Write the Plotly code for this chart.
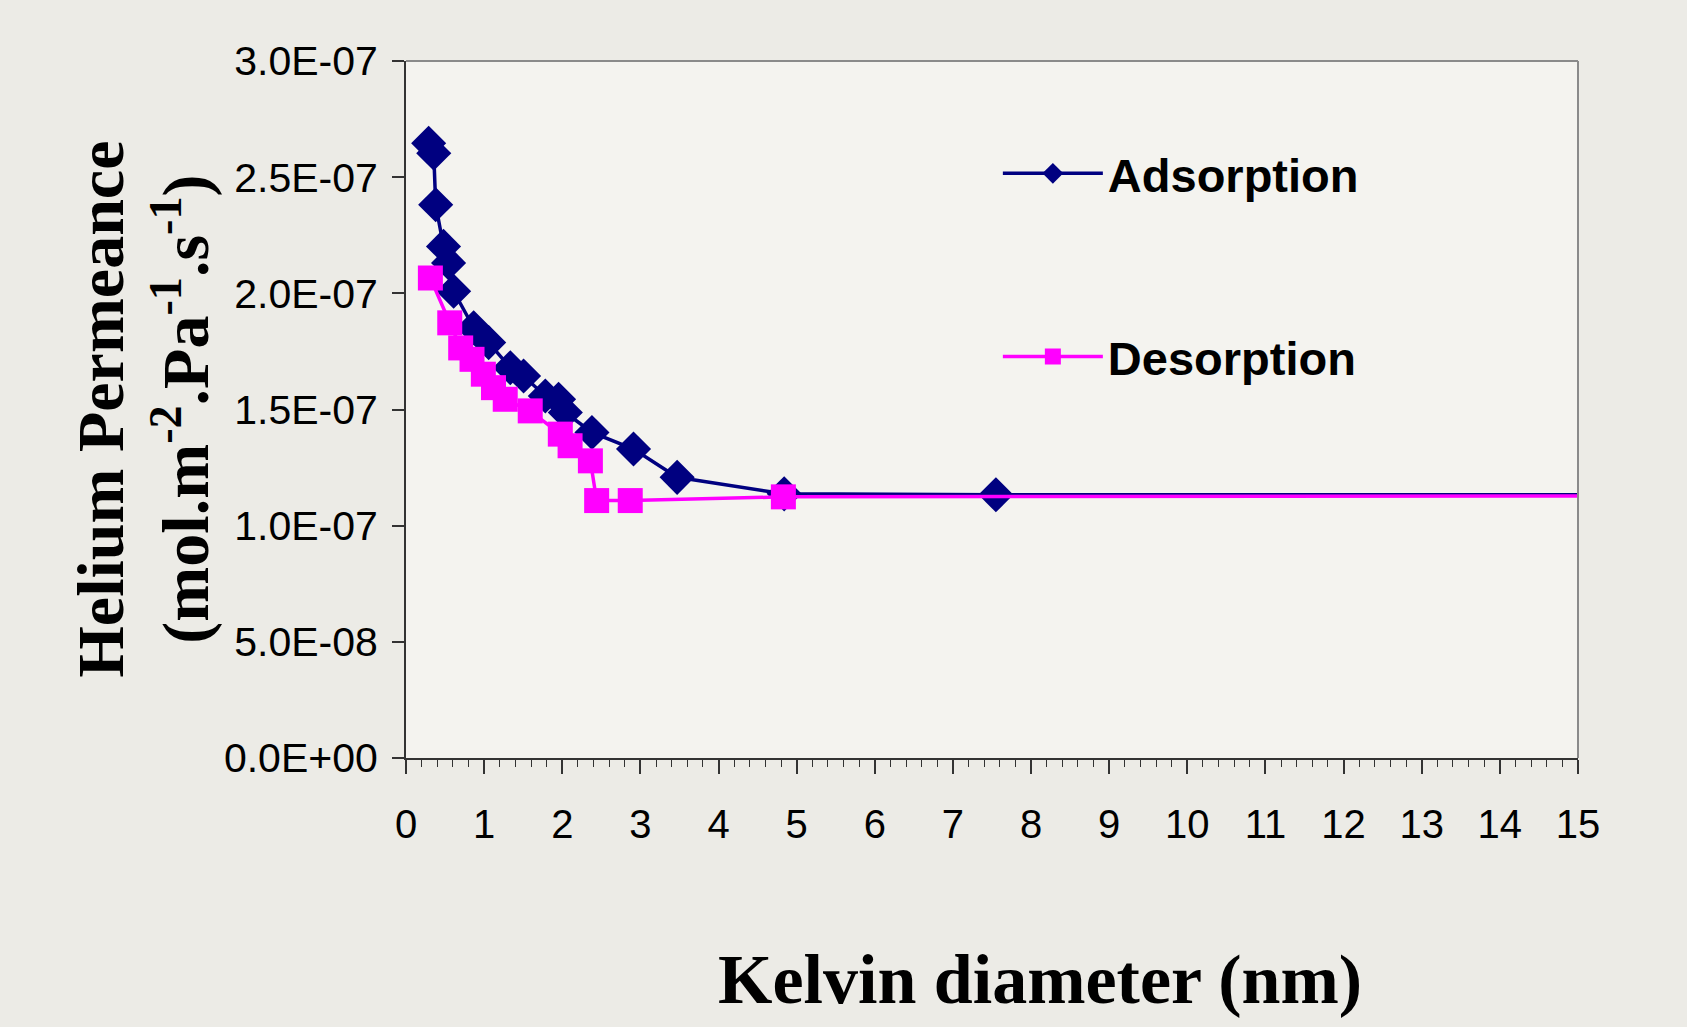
import plotly.graph_objects as go

# ---- data (Kelvin diameter in nm, permeance in mol.m-2.Pa-1.s-1) ----
ads_x = [0.29, 0.355, 0.38, 0.48, 0.545, 0.61, 0.866, 1.058, 1.335, 1.505, 1.783, 1.953, 2.039, 2.38, 2.912, 3.47, 4.84, 7.55, 15.2]
ads_y = [2.646e-7, 2.603e-7, 2.381e-7, 2.202e-7, 2.131e-7, 2.009e-7, 1.852e-7, 1.788e-7, 1.680e-7, 1.644e-7,
         1.558e-7, 1.544e-7, 1.487e-7, 1.401e-7, 1.330e-7, 1.208e-7, 1.137e-7, 1.133e-7, 1.133e-7]

des_x = [0.312, 0.56, 0.70, 0.845, 0.99, 1.12, 1.27, 1.59, 1.975, 2.10, 2.36, 2.44, 2.87, 4.83, 15.2]
des_y = [2.066e-7, 1.873e-7, 1.765e-7, 1.716e-7, 1.652e-7, 1.594e-7, 1.544e-7, 1.494e-7, 1.394e-7, 1.344e-7,
         1.279e-7, 1.108e-7, 1.108e-7, 1.124e-7, 1.128e-7]

y_tickvals = [0, 5e-8, 1e-7, 1.5e-7, 2e-7, 2.5e-7, 3e-7]
y_ticktext = ["0.0E+00", "5.0E-08", "1.0E-07", "1.5E-07", "2.0E-07", "2.5E-07", "3.0E-07"]
x_tickvals = list(range(0, 16))
x_ticktext = [str(v) for v in x_tickvals]

SANS = "Liberation Sans, Arial, sans-serif"
SERIF = "Liberation Serif, Times New Roman, serif"

fig = go.Figure()
fig.add_trace(go.Scatter(
    x=ads_x, y=ads_y, mode="lines+markers", name="Adsorption", legendgroup="a",
    line=dict(color="#000080", width=3.5),
    marker=dict(symbol="diamond", size=27, color="#000080"),
))
fig.add_trace(go.Scatter(
    x=des_x, y=des_y, mode="lines+markers", name="Desorption", legendgroup="b",
    line=dict(color="#FF00FF", width=3.5),
    marker=dict(symbol="square", size=25, color="#FF00FF"),
))

W, H = 1687, 1027
L, R, T, B = 406, 109, 61, 269

fig.update_layout(
    width=W, height=H,
    margin=dict(l=L, r=R, t=T, b=B),
    paper_bgcolor="#ecebe6",
    plot_bgcolor="#f4f3ef",
    showlegend=True,
    legend=dict(
        x=0.505, y=0.892, xanchor="left", yanchor="top",
        bgcolor="rgba(0,0,0,0)", borderwidth=0,
        font=dict(family=SANS, size=47, color="black", weight="bold"),
        itemwidth=100, tracegroupgap=119, traceorder="grouped",
    ),
    xaxis=dict(
        range=[0, 15], tickmode="array", tickvals=x_tickvals, ticktext=x_ticktext,
        showgrid=False, zeroline=False, showline=True, linecolor="#333", linewidth=2,
        mirror=False, ticks="outside", ticklen=14, tickwidth=1.5, tickcolor="#333",
        tickfont=dict(family=SANS, size=40, color="black"), ticklabelstandoff=16,
        minor=dict(tickvals=[i * 0.2 for i in range(0, 76)], ticks="outside", ticklen=7, tickwidth=1, tickcolor="#333"),
    ),
    yaxis=dict(
        range=[0, 3e-7], tickmode="array", tickvals=y_tickvals, ticktext=y_ticktext,
        showgrid=False, zeroline=False, showline=True, linecolor="#333", linewidth=2,
        ticks="outside", ticklen=12, tickwidth=1.5, tickcolor="#333",
        tickfont=dict(family=SANS, size=41, color="black"), ticklabelstandoff=6,
    ),
)

# plot-area border on top and right
fig.add_shape(type="line", xref="paper", yref="paper", x0=0, x1=1, y0=1, y1=1, line=dict(color="#8a8a8a", width=2))
fig.add_shape(type="line", xref="paper", yref="paper", x0=1, x1=1, y0=0, y1=1, line=dict(color="#8a8a8a", width=2))

# axis titles
fig.add_annotation(
    text="<b>Kelvin diameter (nm)</b>", xref="paper", yref="paper",
    x=(1040 - L) / (W - L - R), y=-(979 - (H - B)) / (H - T - B),
    xanchor="center", yanchor="middle", showarrow=False,
    font=dict(family=SERIF, size=70, color="black"),
)
fig.add_annotation(
    text="<b>Helium Permeance<br>(mol.m<sup>-2</sup>.Pa<sup>-1</sup>.s<sup>-1</sup>)</b>",
    xref="paper", yref="paper",
    x=-(L - 143) / (W - L - R), y=0.5,
    xanchor="center", yanchor="middle", showarrow=False, textangle=-90,
    font=dict(family=SERIF, size=66, color="black"),
)

fig.write_html(
    "out.html",
    config={"displayModeBar": False},
    post_script="document.body.style.margin='0';document.body.style.background='#ecebe6';",
)
